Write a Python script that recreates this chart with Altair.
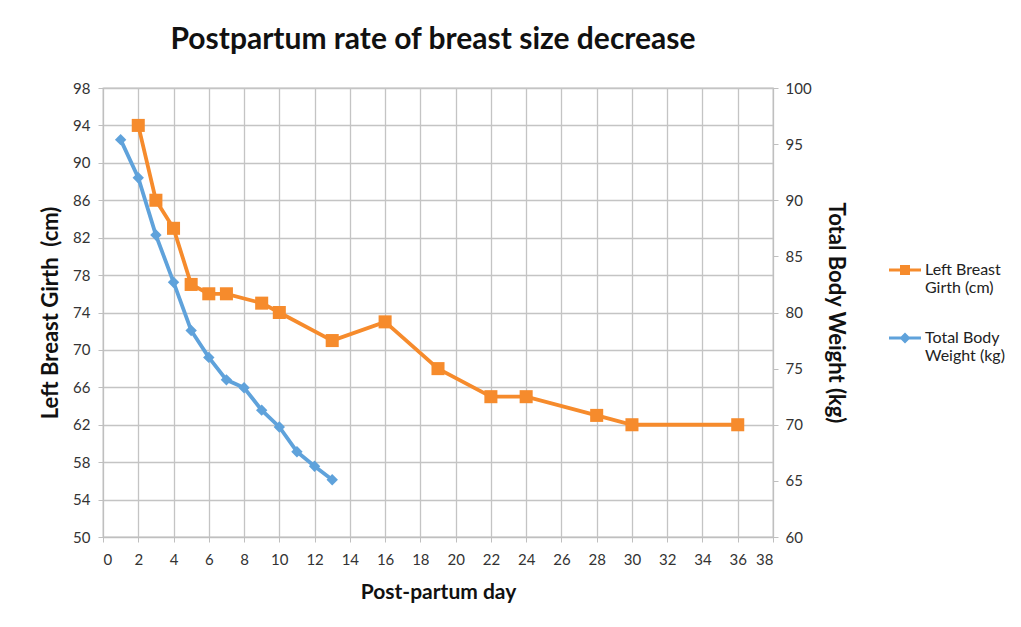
import altair as alt
import pandas as pd

girth_days = [2, 3, 4, 5, 6, 7, 9, 10, 13, 16, 19, 22, 24, 28, 30, 36]
girth_cm = [94, 86, 83, 77, 76, 76, 75, 74, 71, 73, 68, 65, 65, 63, 62, 62]

weight_days = [1, 2, 3, 4, 5, 6, 7, 8, 9, 10, 11, 12, 13]
weight_kg = [95.4, 92.0, 86.9, 82.7, 78.4, 76.0, 74.0, 73.3, 71.3, 69.8, 67.6, 66.3, 65.1]

series_names = ["Left Breast Girth (cm)", "Total Body Weight (kg)"]
series_colors = ["#F68B2C", "#5FA2DB"]

x_ticks = list(range(0, 39, 2))
left_ticks = list(range(50, 99, 4))
right_ticks = list(range(60, 101, 5))

FONT = "Lato"

df_g = pd.DataFrame({"day": girth_days, "value": girth_cm, "series": series_names[0]})
df_w = pd.DataFrame({"day": weight_days, "value": weight_kg, "series": series_names[1]})

x_enc = alt.X(
    "day:Q",
    scale=alt.Scale(domain=[0, 38], nice=False, zero=False),
    axis=alt.Axis(values=x_ticks, title="Post-partum day", grid=True, titlePadding=14,
                  labelPadding=10, titleFontSize=21),
)

color_scale = alt.Scale(domain=series_names, range=series_colors)

yl = alt.Y(
    "value:Q",
    scale=alt.Scale(domain=[50, 98], nice=False, zero=False),
    axis=alt.Axis(values=left_ticks, title="Left Breast Girth\u00a0\u00a0(cm)", grid=True,
                  titlePadding=10, labelPadding=8),
)
yr = alt.Y(
    "value:Q",
    scale=alt.Scale(domain=[60, 100], nice=False, zero=False),
    axis=alt.Axis(values=right_ticks, title="Total Body Weight (kg)", grid=False,
                  orient="right", titlePadding=12, labelPadding=7),
)

base_g = alt.Chart(df_g)
line_g = base_g.mark_line(strokeWidth=3.8, color=series_colors[0]).encode(x=x_enc, y=yl)
pts_g = base_g.mark_point(shape="square", filled=True, size=170, opacity=1,
                          color=series_colors[0]).encode(x=x_enc, y=yl)

legend_paths = [
    "M-1.6,-0.14H1.6V0.14H-1.6Z M-0.5,-0.5H0.5V0.5H-0.5Z",
    "M-1.6,-0.14H1.6V0.14H-1.6Z M0,-0.55L0.55,0L0,0.55L-0.55,0Z",
]
label_expr = ("datum.label == 'Left Breast Girth (cm)' ? ['Left Breast', 'Girth (cm)'] "
              ": ['Total Body', 'Weight (kg)']")
legend_kw = dict(
    title=None, orient="none", legendX=792, legendY=172,
    labelExpr=label_expr, labelLimit=200,
    symbolSize=400, symbolStrokeWidth=0, symbolOpacity=1, labelFontSize=16,
    labelFont=FONT, labelColor="#222222", rowPadding=32, labelOffset=10,
)
all_df = pd.concat([df_g, df_w])
legend_layer = alt.Chart(all_df).mark_point(filled=True, opacity=0, size=1).encode(
    x=x_enc,
    y=yl,
    color=alt.Color("series:N", scale=color_scale, legend=alt.Legend(**legend_kw)),
    shape=alt.Shape("series:N", scale=alt.Scale(domain=series_names, range=legend_paths),
                    legend=alt.Legend(**legend_kw)),
)

left_layer = alt.layer(line_g, pts_g, legend_layer)

base_w = alt.Chart(df_w)
line_w = base_w.mark_line(strokeWidth=3.8, color=series_colors[1]).encode(x=x_enc, y=yr)
pts_w = base_w.mark_point(shape="diamond", filled=True, size=130, opacity=1,
                          color=series_colors[1]).encode(x=x_enc, y=yr)
right_layer = alt.layer(line_w, pts_w)

chart = alt.layer(left_layer, right_layer).resolve_scale(y="independent").properties(
    width=670,
    height=449,
    background="white",
    title=alt.Title("Postpartum rate of breast size decrease", fontSize=30, font=FONT,
                    fontWeight="bold", color="#111111", anchor="middle", offset=26, dx=-5),
    autosize=alt.AutoSizeParams(type="none"),
    padding={"left": 95, "top": 80, "right": 236, "bottom": 78},
).configure_axis(
    labelFont=FONT, labelFontSize=15, labelColor="#333333",
    titleFont=FONT, titleFontSize=22, titleFontWeight="bold", titleColor="#111111",
    gridColor="#C4C4C4", gridWidth=1.3, domainColor="#BFBFBF", tickColor="#BFBFBF",
    tickSize=5,
).configure_view(stroke="#C4C4C4", strokeWidth=1.3)

chart.save("out.html", embed_options={"renderer": "svg", "actions": False})
